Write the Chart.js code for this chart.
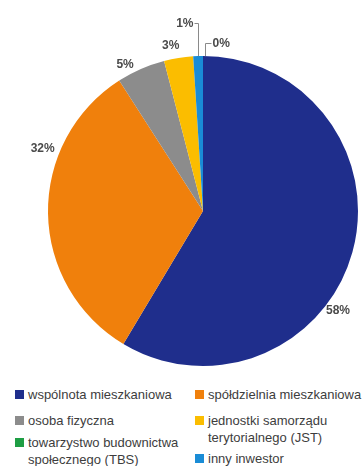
<!DOCTYPE html>
<html><head><meta charset="utf-8">
<script src="https://cdn.jsdelivr.net/npm/chart.js@4/dist/chart.umd.min.js"></script>
<style>
html,body{margin:0;padding:0;background:#fff;}
#wrap{position:relative;width:363px;height:466px;overflow:hidden;}
#c{position:absolute;left:0;top:0;}
.lg{position:absolute;font-family:"Liberation Sans Narrow","Arial Narrow","Liberation Sans",sans-serif;font-size:13px;color:#3d3d3d;line-height:17px;}
.sq{position:absolute;width:9px;height:9px;}
</style></head>
<body><div id="wrap"><canvas id="c" width="363" height="380"></canvas><div id="legend"></div></div>
<script>
const categories = ["wspólnota mieszkaniowa","spółdzielnia mieszkaniowa","osoba fizyczna","jednostki samorządu terytorialnego (JST)","towarzystwo budownictwa społecznego (TBS)","inny inwestor"];
const legendLines = [["wspólnota mieszkaniowa"],["spółdzielnia mieszkaniowa"],["osoba fizyczna"],["jednostki samorządu","terytorialnego (JST)"],["towarzystwo budownictwa","społecznego (TBS)"],["inny inwestor"]];
const values = [58, 32, 5, 3, 0, 1];
const valueLabels = ["58%","32%","5%","3%","0%","1%"];
const colors = ["#1f2e8c","#f0800c","#8c8c8c","#fbbd00","#1e9e44","#1a8cd6"];

// label placement (fraction along arc, radial offset)
const labelFrac = [0.60, 0.69, 0.26, 0.32];
const labelOff = [13, 17, 11, 13];

const labelPlugin = {
  id:'labels',
  afterDatasetsDraw(chart){
    const ctx = chart.ctx;
    const meta = chart.getDatasetMeta(0);
    ctx.save();
    ctx.font = 'bold 12px "Liberation Sans Narrow","Arial Narrow",sans-serif';
    ctx.fillStyle = '#4a4a4a';
    ctx.textBaseline = 'middle';
    meta.data.forEach((arc, i) => {
      const {x, y, startAngle, endAngle, outerRadius} = arc.getProps(['x','y','startAngle','endAngle','outerRadius'], true);
      if (i < 4) {
        const a = startAngle + labelFrac[i]*(endAngle-startAngle);
        const r = outerRadius + labelOff[i];
        ctx.textAlign = 'center';
        ctx.fillText(valueLabels[i], x + r*Math.cos(a), y + r*Math.sin(a));
      } else {
        ctx.strokeStyle = '#8a8a8a';
        ctx.lineWidth = 1;
        let a;
        if (i === 5) a = (startAngle+endAngle)/2; else a = meta.data[5].endAngle + 0.01;
        const px = Math.round(x + outerRadius*Math.cos(a)) + 0.5;
        const py = y + outerRadius*Math.sin(a);
        const up = (i === 5) ? 33 : 13;
        const ty = Math.round(py - up) + 0.5;
        ctx.beginPath();
        ctx.moveTo(px, py);
        ctx.lineTo(px, ty);
        if (i === 5) { ctx.lineTo(px-4, ty); ctx.stroke(); ctx.textAlign='right'; ctx.fillText(valueLabels[i], px-5, ty); }
        else { ctx.lineTo(px+6, ty); ctx.stroke(); ctx.textAlign='left'; ctx.fillText(valueLabels[i], px+7, ty); }
      }
    });
    ctx.restore();
  }
};

new Chart(document.getElementById('c'), {
  type:'pie',
  data:{labels:categories, datasets:[{data:values, backgroundColor:colors, borderWidth:0, hoverOffset:0}]},
  options:{
    responsive:false, animation:false,
    layout:{padding:{left:48,right:5,top:56,bottom:14}},
    plugins:{legend:{display:false}, tooltip:{enabled:false}}
  },
  plugins:[labelPlugin]
});

// legend
const pos = [[15,394],[195,394],[15,420],[195,420],[15,442],[195,458]];
const lg = document.getElementById('legend');
legendLines.forEach((lines, i) => {
  const [lx, ly] = pos[i];
  const sq = document.createElement('div');
  sq.className='sq'; sq.style.left = lx+'px'; sq.style.top = (ly-4.5)+'px'; sq.style.background = colors[i];
  lg.appendChild(sq);
  const t = document.createElement('div');
  t.className='lg'; t.style.left = (lx+13)+'px'; t.style.top = (ly-8.5)+'px';
  t.innerHTML = lines.join('<br>');
  lg.appendChild(t);
});
</script></body></html>
